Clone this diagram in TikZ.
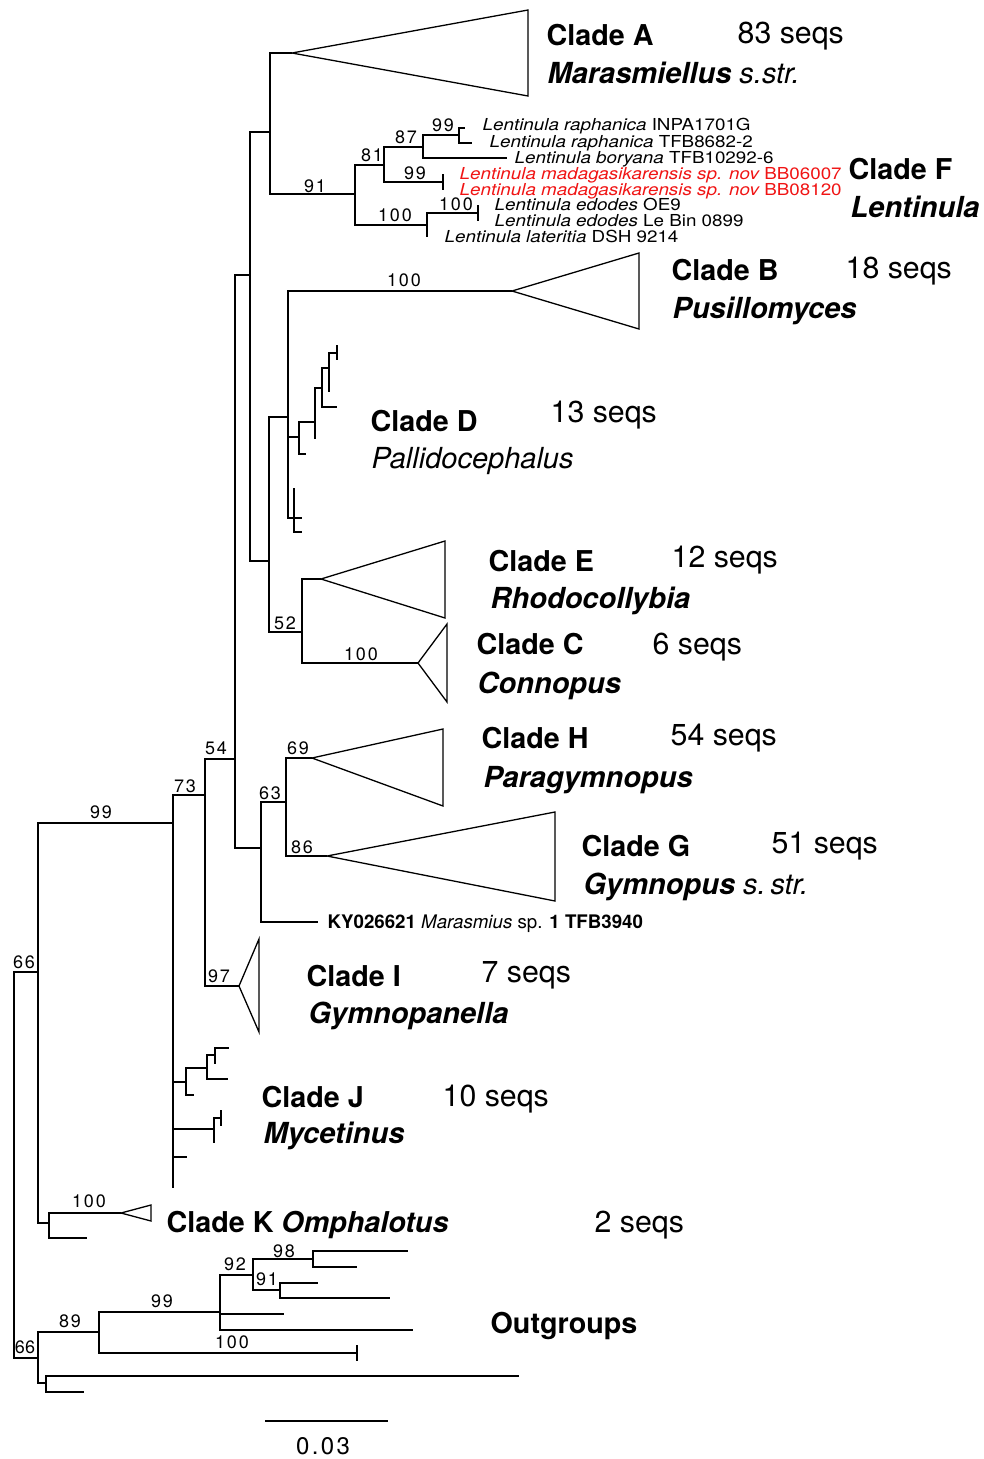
\documentclass[tikz,border=0pt]{standalone}
\usepackage{fontspec}
\setmainfont{TeX Gyre Heros}
\newfontfamily\stretchf[FakeStretch=1.14]{TeX Gyre Heros}
\newfontfamily\suppf[LetterSpace=10]{TeX Gyre Heros}
\definecolor{lred}{RGB}{240,20,20}
\tikzset{
  clade/.style={font=\fontsize{28.7}{30}\selectfont\bfseries, anchor=base west, inner sep=0pt},
  seqs/.style={font=\fontsize{30.3}{31}\selectfont, anchor=base west, inner sep=0pt},
  genus/.style={font=\fontsize{29}{30}\selectfont\bfseries\itshape, anchor=base west, inner sep=0pt},
  supp/.style={font=\suppf\fontsize{18}{18}\selectfont, inner sep=0pt},
  taxon/.style={font=\stretchf\fontsize{16.5}{17}\selectfont, anchor=base west, inner sep=0pt},
  branch/.style={line width=1.3pt},
}
\begin{document}
\begin{tikzpicture}[x=1pt,y=-1pt,line width=1.3pt]
\useasboundingbox (0,0) rectangle (983,1459);
% ---- tree node positions
\coordinate (root) at (14,1165);
\coordinate (nIn) at (38,972);
\coordinate (nOut) at (38,1358);
\coordinate (n173) at (173,823);
\coordinate (nK) at (49,1223);
\coordinate (n205) at (205,795);
\coordinate (nJ1) at (186,1082);
\coordinate (nJ2) at (214,1129);
\coordinate (lJ3) at (187,1157);
\coordinate (lJ4) at (173,1188);
\coordinate (n235) at (235,759);
\coordinate (tI) at (239,986);
\coordinate (n250) at (250,275);
\coordinate (n261) at (261,848);
\coordinate (n286) at (286,802);
\coordinate (lKY) at (318,922);
\coordinate (tH) at (312,758);
\coordinate (tG) at (327,856);
\coordinate (n270) at (270,132);
\coordinate (n269) at (269,561);
\coordinate (tA) at (292,53);
\coordinate (n355) at (355,194);
\coordinate (n384) at (384,165);
\coordinate (n427) at (427,225);
\coordinate (n423) at (423,147);
\coordinate (n443) at (443,182);
\coordinate (n459) at (459,135);
\coordinate (lBo) at (507,158);
\coordinate (lR1) at (465,128);
\coordinate (lR2) at (472,143);
\coordinate (lM1) at (443,174);
\coordinate (lM2) at (443,190);
\coordinate (n478) at (478,213);
\coordinate (lLa) at (427,237);
\coordinate (lE1) at (478,205);
\coordinate (lE2) at (478,221);
\coordinate (n288) at (288,417);
\coordinate (n302) at (302,632);
\coordinate (tB) at (512,291);
\coordinate (n299) at (299,437);
\coordinate (n294) at (294,518);
\coordinate (n315) at (315,422);
\coordinate (lD1) at (306,454);
\coordinate (n322) at (322,388);
\coordinate (lD2) at (315,439);
\coordinate (n329) at (329,368);
\coordinate (lD3) at (337,407);
\coordinate (n337) at (337,353);
\coordinate (lD4) at (329,392);
\coordinate (lD5) at (337,345);
\coordinate (lD6) at (337,360);
\coordinate (lD7) at (302,518);
\coordinate (lD8) at (302,532);
\coordinate (lD9) at (294,488);
\coordinate (tE) at (321,579);
\coordinate (tC) at (418,663);
\coordinate (n207) at (207,1068);
\coordinate (lJa) at (194,1095);
\coordinate (n215) at (215,1055);
\coordinate (lJb) at (228,1079);
\coordinate (lJc) at (229,1048);
\coordinate (lJd) at (215,1064);
\coordinate (n221) at (221,1118);
\coordinate (lJe) at (214,1143);
\coordinate (lJf) at (221,1110);
\coordinate (lJg) at (221,1126);
\coordinate (tK) at (121,1213);
\coordinate (lK) at (87,1238);
\coordinate (n89) at (99,1332);
\coordinate (n46) at (46,1383);
\coordinate (n99o) at (220,1312);
\coordinate (n100o) at (357,1353);
\coordinate (lT1) at (357,1345);
\coordinate (lT2) at (357,1361);
\coordinate (n92) at (253,1275);
\coordinate (lO1) at (284,1314);
\coordinate (lO2) at (413,1330);
\coordinate (n98) at (313,1259);
\coordinate (n91) at (280,1290);
\coordinate (lO3) at (408,1251);
\coordinate (lO4) at (357,1267);
\coordinate (lO5) at (318,1283);
\coordinate (lO6) at (390,1298);
\coordinate (lO7) at (519,1376);
\coordinate (lO8) at (84,1392);
% triangle corners
\coordinate (tA1) at (528,10);  \coordinate (tA2) at (528,96);
\coordinate (tB1) at (639,253); \coordinate (tB2) at (639,329);
\coordinate (tE1) at (445,541); \coordinate (tE2) at (445,618);
\coordinate (tC1) at (447,624); \coordinate (tC2) at (447,702);
\coordinate (tH1) at (443,729); \coordinate (tH2) at (443,806);
\coordinate (tG1) at (555,812); \coordinate (tG2) at (555,901);
\coordinate (tI1) at (259,939); \coordinate (tI2) at (259,1032);
\coordinate (tK1) at (151,1205); \coordinate (tK2) at (151,1221);
% ---- branches
\foreach \p/\c in {root/nIn, root/nOut, nIn/n173, nIn/nK, n173/n205, n173/nJ1, n173/nJ2,
  n173/lJ3, n173/lJ4, n205/n235, n205/tI, n235/n250, n235/n261, n261/n286, n261/lKY,
  n286/tH, n286/tG, n250/n270, n250/n269, n270/tA, n270/n355, n355/n384, n355/n427,
  n384/n423, n384/n443, n423/n459, n423/lBo, n459/lR1, n459/lR2, n443/lM1, n443/lM2,
  n427/n478, n427/lLa, n478/lE1, n478/lE2, n269/n288, n269/n302, n288/tB, n288/n299,
  n288/n294, n299/n315, n299/lD1, n315/n322, n315/lD2, n322/n329, n322/lD3, n329/n337,
  n329/lD4, n337/lD5, n337/lD6, n294/lD7, n294/lD8, n294/lD9, n302/tE, n302/tC,
  nJ1/n207, nJ1/lJa, n207/n215, n207/lJb, n215/lJc, n215/lJd, nJ2/n221, nJ2/lJe,
  n221/lJf, n221/lJg, nK/tK, nK/lK, nOut/n89, nOut/n46, n89/n99o, n89/n100o,
  n100o/lT1, n100o/lT2, n99o/n92, n99o/lO1, n99o/lO2, n92/n98, n92/n91, n98/lO3,
  n98/lO4, n91/lO5, n91/lO6, n46/lO7, n46/lO8}
  \draw[branch] (\p) |- (\c);
% ---- collapsed clades
\foreach \t in {tA,tB,tE,tC,tH,tG,tI,tK}
  \draw[branch, line join=miter] (\t) -- (\t1) -- (\t2) -- cycle;
% ---- support values
\node[supp] (s1) at (315,186) {91};
\node[supp] (s2) at (372,155) {81};
\node[supp] (s3) at (406,137) {87};
\node[supp] (s4) at (443,125) {99};
\node[supp] (s5) at (415,173) {99};
\node[supp] (s6) at (395,215) {100};
\node[supp] (s7) at (456,204) {100};
\node[supp] (s8) at (404,280) {100};
\node[supp] (s9) at (285,623) {52};
\node[supp] (s10) at (361,654) {100};
\node[supp] (s11) at (298,748) {69};
\node[supp] (s12) at (270,793) {63};
\node[supp] (s13) at (302,847) {86};
\node[supp] (s14) at (216,748) {54};
\node[supp] (s15) at (185,786) {73};
\node[supp] (s16) at (101,812) {99};
\node[supp] (s17) at (219,976) {97};
\node[supp] (s18) at (24,962) {66};
\node[supp] (s19) at (89,1201) {100};
\node[supp] (s20) at (284,1251) {98};
\node[supp] (s21) at (235,1264) {92};
\node[supp] (s22) at (267,1279) {91};
\node[supp] (s23) at (162,1301) {99};
\node[supp] (s24) at (70,1321) {89};
\node[supp] (s25) at (232,1342) {100};
\node[supp, font=\fontsize{18}{18}\selectfont] (s26) at (25,1347) {66};
% ---- Lentinula tip labels
\node[taxon] (t1) at (482,130) {\itshape Lentinula raphanica\upshape\ INPA1701G};
\node[taxon] (t2) at (489,147) {\itshape Lentinula raphanica\upshape\ TFB8682-2};
\node[taxon] (t3) at (514,163) {\itshape Lentinula boryana\upshape\ TFB10292-6};
\node[taxon, text=lred] (t4) at (459,179) {\itshape Lentinula madagasikarensis sp. nov\upshape\ BB06007};
\node[taxon, text=lred] (t5) at (459,195) {\itshape Lentinula madagasikarensis sp. nov\upshape\ BB08120};
\node[taxon] (t6) at (494,210) {\itshape Lentinula edodes\upshape\ OE9};
\node[taxon] (t7) at (494,226) {\itshape Lentinula edodes\upshape\ Le Bin 0899};
\node[taxon] (t8) at (444,242) {\itshape Lentinula lateritia\upshape\ DSH 9214};
\node[anchor=base west, inner sep=0pt, font=\fontsize{18.7}{19}\selectfont] (tKY) at (327,928)
  {\textbf{KY026621} \textit{Marasmius} sp. \textbf{1 TFB3940}};
% ---- clade labels
\node[clade] (cA) at (546,45) {Clade A};
\node[seqs] (qA) at (737,43) {83 seqs};
\node[genus] (gA) at (547,83) {Marasmiellus\mdseries\ s.str.};
\node[clade] (cF) at (848,179) {Clade F};
\node[genus] (gF) at (850,217) {Lentinula};
\node[clade] (cB) at (671,280) {Clade B};
\node[seqs] (qB) at (845,278) {18 seqs};
\node[genus] (gB) at (672,318) {Pusillomyces};
\node[clade] (cD) at (370,431) {Clade D};
\node[seqs] (qD) at (550,422) {13 seqs};
\node[seqs, font=\fontsize{29}{30}\selectfont\itshape] (gD) at (371,468) {Pallidocephalus};
\node[clade] (cE) at (488,571) {Clade E};
\node[seqs] (qE) at (671,567) {12 seqs};
\node[genus] (gE) at (490,608) {Rhodocollybia};
\node[clade] (cC) at (476,654) {Clade C};
\node[seqs] (qC) at (652,654) {6 seqs};
\node[genus] (gC) at (477,693) {Connopus};
\node[clade] (cH) at (481,748) {Clade H};
\node[seqs] (qH) at (670,745) {54 seqs};
\node[genus] (gH) at (483,787) {Paragymnopus};
\node[clade] (cG) at (581,856) {Clade G};
\node[seqs] (qG) at (771,853) {51 seqs};
\node[genus] (gG) at (583,894) {Gymnopus\mdseries\ s.\,str.};
\node[clade] (cI) at (306,986) {Clade I};
\node[seqs] (qI) at (481,982) {7 seqs};
\node[genus] (gI) at (308,1023) {Gymnopanella};
\node[clade] (cJ) at (261,1107) {Clade J};
\node[seqs] (qJ) at (442,1106) {10 seqs};
\node[genus] (gJ) at (263,1143) {Mycetinus};
\node[clade] (cK) at (166,1232) {Clade K \itshape Omphalotus};
\node[seqs] (qK) at (594,1232) {2 seqs};
\node[clade] (cO) at (490,1333) {Outgroups};
% ---- scale bar
\coordinate (sb1) at (265,1421);
\coordinate (sb2) at (388,1421);
\draw[branch] (sb1) -- (sb2);
\node[supp, font=\suppf\fontsize{24}{24}\selectfont] (sbl) at (323,1446) {0.03};
\end{tikzpicture}
\end{document}
